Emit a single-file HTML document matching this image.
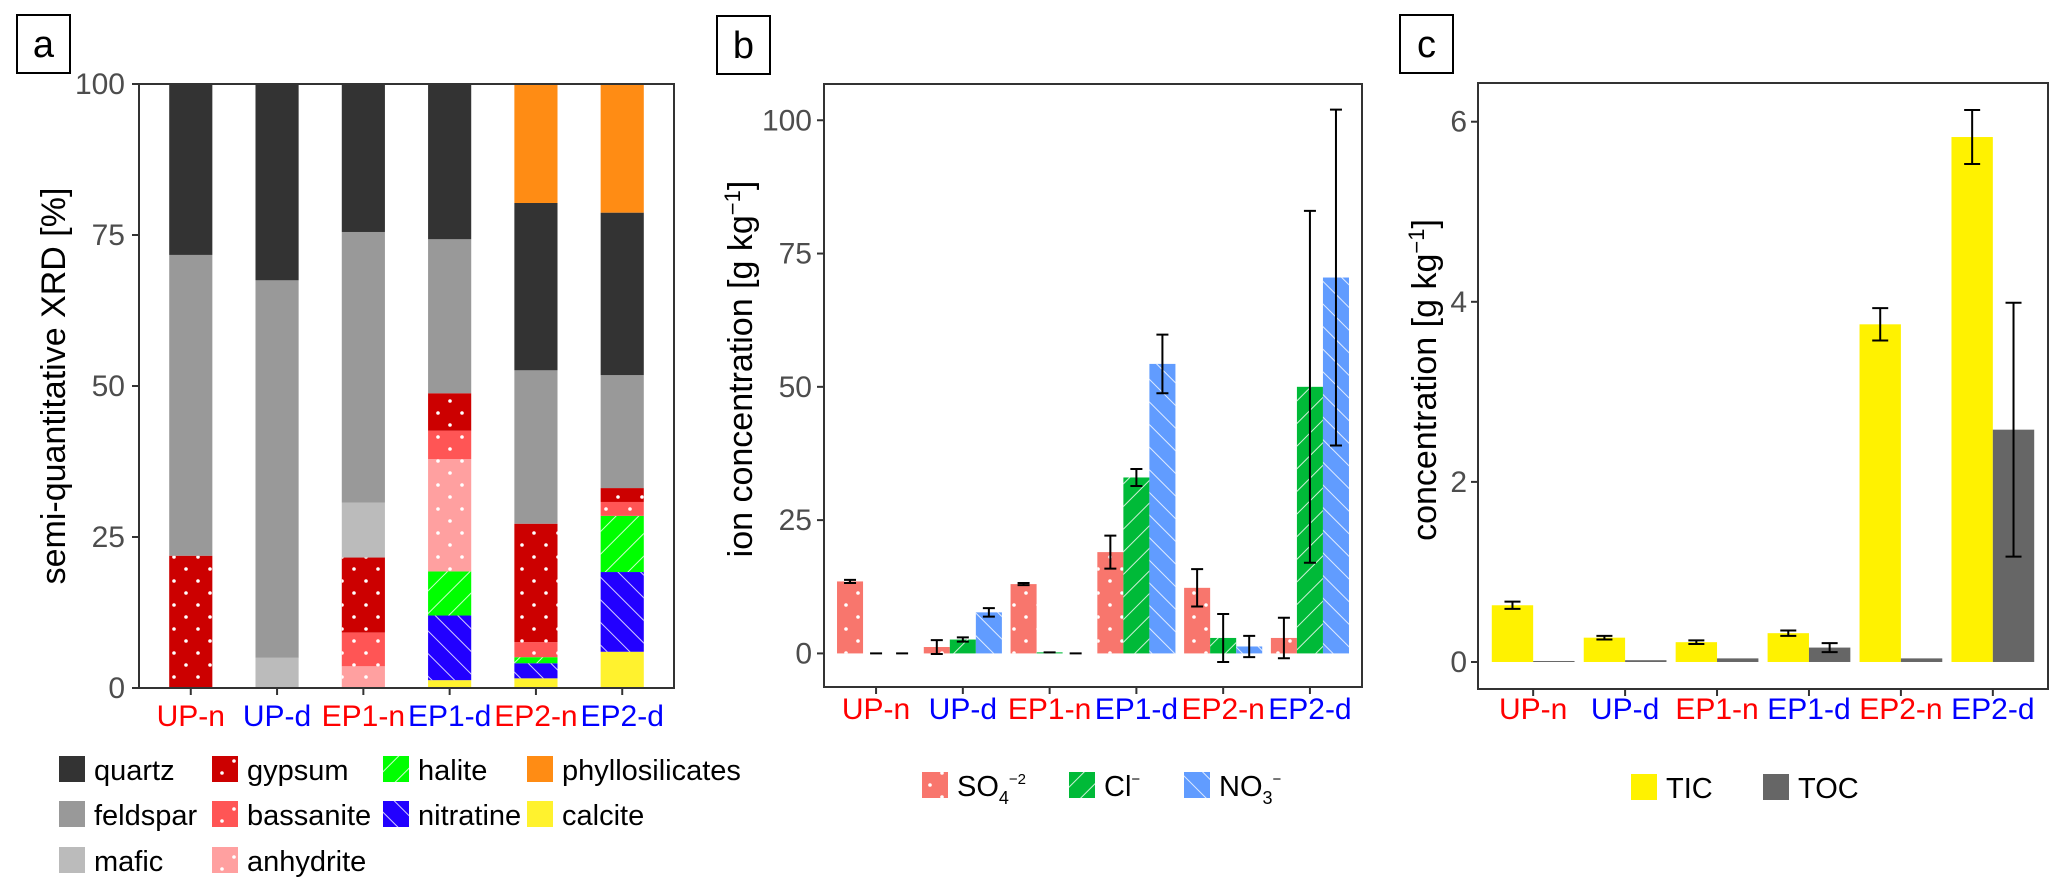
<!DOCTYPE html>
<html><head><meta charset="utf-8"><style>
html,body{margin:0;padding:0;background:#fff;}
svg{display:block;font-family:"Liberation Sans",sans-serif;}
</style></head><body>
<svg id="fig" width="2067" height="886" viewBox="0 0 2067 886" xmlns="http://www.w3.org/2000/svg">
<defs>
<pattern id="dots" width="24" height="24" patternUnits="userSpaceOnUse"><circle cx="6" cy="5" r="1.8" fill="#fff"/><circle cx="18" cy="17" r="1.8" fill="#fff"/></pattern>
<pattern id="fwd" width="16" height="16" patternUnits="userSpaceOnUse" patternTransform="rotate(45)"><line x1="0" y1="0" x2="0" y2="16" stroke="#fff" stroke-width="2" stroke-opacity="0.8"/></pattern>
<pattern id="bwd" width="16" height="16" patternUnits="userSpaceOnUse" patternTransform="rotate(-45)"><line x1="0" y1="0" x2="0" y2="16" stroke="#fff" stroke-width="2" stroke-opacity="0.8"/></pattern>
</defs>
<g id="pa"></g>
<g id="pb"></g>
<g id="pc"></g>
</svg>
<script>
const categories = ["UP-n","UP-d","EP1-n","EP1-d","EP2-n","EP2-d"];
const catColors = ["#ff0000","#0000ff","#ff0000","#0000ff","#ff0000","#0000ff"];
// Panel a: mineral percentages (stack order bottom->top)
const minerals = ["calcite","nitratine","halite","anhydrite","bassanite","gypsum","mafic","feldspar","quartz","phyllosilicates"];
const calcite   = [0,0,0,1.3,1.6,6.0];
const nitratine = [0,0,0,10.7,2.5,13.2];
const halite    = [0,0,0,7.3,1.0,9.3];
const anhydrite = [0,0,3.6,18.6,0,0];
const bassanite = [0,0,5.6,4.7,2.5,2.3];
const gypsum    = [21.9,0,12.4,6.2,19.6,2.3];
const mafic     = [0,5.0,9.1,0,0,0];
const feldspar  = [49.8,62.5,44.8,25.5,25.4,18.7];
const quartz    = [28.3,32.5,24.5,25.7,27.7,26.9];
const phyllosilicates = [0,0,0,0,19.7,21.3];
const aTicks = [0,25,50,75,100];
// Panel b: ions
const ions = ["SO4","Cl","NO3"];
const so4 = [13.5,1.2,13.0,19.0,12.3,2.9];
const so4Err = [0.3,1.3,0.2,3.1,3.5,3.8];
const cl = [0,2.6,0.2,33.0,2.9,50.0];
const clErr = [0,0.4,0,1.6,4.5,33.0];
const no3 = [0,7.7,0,54.3,1.3,70.5];
const no3Err = [0,0.8,0,5.5,2.0,31.5];
const bTicks = [0,25,50,75,100];
// Panel c
const tic = [0.63,0.27,0.22,0.32,3.75,5.83];
const ticErr = [0.04,0.02,0.02,0.03,0.18,0.30];
const toc = [0.0,0.02,0.04,0.16,0.04,2.58];
const tocErr = [0,0,0,0.05,0,1.41];
const cTicks = [0,2,4,6];

const NS="http://www.w3.org/2000/svg";
const TF=30;
function mk(parent,tag,attrs){const e=document.createElementNS(NS,tag);for(const k in attrs)e.setAttribute(k,attrs[k]);parent.appendChild(e);return e;}
function txt(parent,x,y,s,attrs){const t=mk(parent,"text",Object.assign({x:x,y:y},attrs));t.textContent=s;return t;}

function panelBox(g,x,y,label){
  const b=mk(g,"rect",{x:x,y:y,width:53,height:58,fill:"#fff",stroke:"#000","stroke-width":2});
  
  
  const t=txt(g,x+26.5,y+42,label,{"font-size":38,"text-anchor":"middle",fill:"#000"});
  
  
}
function frame(g,x0,x1,y0,y1){
  const r=mk(g,"rect",{x:x0,y:y0,width:x1-x0,height:y1-y0,fill:"none",stroke:"#333","stroke-width":2});
  
  
}
function yAxis(g,ticks,ys,x0,labelRight){
  ticks.forEach(v=>{const y=ys(v);
    const l=mk(g,"line",{x1:x0-7,x2:x0,y1:y,y2:y,stroke:"#333","stroke-width":2});
    
    
    const t=txt(g,labelRight,y+10,String(v),{"font-size":TF,"text-anchor":"end",fill:"#4d4d4d"});
    
    
  });
}
function xAxis(g,xs,yb,ly){
  categories.forEach((c,i)=>{const x=xs(i);
    const l=mk(g,"line",{x1:x,x2:x,y1:yb,y2:yb+7,stroke:"#333","stroke-width":2});
    
    
    const t=txt(g,x,ly,c,{"font-size":TF,"text-anchor":"middle",fill:catColors[i]});
    
    
  });
}
function bar(g,x,w,yTop,yBot,color,pat,name){
  const h=Math.max(0,yBot-yTop);
  const r=mk(g,"rect",{x:x,y:yTop,width:w,height:h,fill:color});
  
  
  if(pat){const p=mk(g,"rect",{x:x,y:yTop,width:w,height:h,fill:"url(#"+pat+")"});
    
    }
}
function errbar(g,x,yHi,yLo,w){
  const e=mk(g,"path",{d:`M${x-w} ${yHi}H${x+w}M${x} ${yHi}V${yLo}M${x-w} ${yLo}H${x+w}`,stroke:"#000","stroke-width":2,fill:"none"});
  
  
}
function yTitle(g,x,y,content){
  const t=mk(g,"text",{x:0,y:0,transform:`translate(${x},${y}) rotate(-90)`,"font-size":34,"text-anchor":"middle",fill:"#000"});
  t.innerHTML=content;
  
  
}
function legendKey(g,x,y,color,pat,label,name,isHtml){
  const r=mk(g,"rect",{x:x,y:y,width:26,height:26,fill:color});
  
  
  if(pat){const p=mk(g,"rect",{x:x,y:y,width:26,height:26,fill:"url(#"+pat+")"});
    
    }
  const t=mk(g,"text",{x:x+35,y:y+24,"font-size":29,fill:"#000"});
  if(isHtml)t.innerHTML=label;else t.textContent=label;
  
  
}

// ---------- Panel a ----------
(function(){
  const g=document.getElementById("pa");
  const X0=139,X1=674,Y0=84,Y1=688;
  const step=(X1-X0)/6.2;
  const xs=i=>X0+step*(0.6+i);
  const ys=v=>Y1-(v/100)*(Y1-Y0);
  panelBox(g,17,15,"a");
  const series={calcite,nitratine,halite,anhydrite,bassanite,gypsum,mafic,feldspar,quartz,phyllosilicates};
  const col={calcite:"#fff22e",nitratine:"#2200ff",halite:"#00ff00",anhydrite:"#ffa0a0",bassanite:"#ff5555",gypsum:"#cc0000",mafic:"#bbbbbb",feldspar:"#999999",quartz:"#333333",phyllosilicates:"#ff8c14"};
  const pat={halite:"fwd",nitratine:"bwd",anhydrite:"dots",bassanite:"dots",gypsum:"dots"};
  const bw=step*0.5;
  categories.forEach((c,i)=>{let cum=0;
    minerals.forEach(m=>{const v=series[m][i];if(v<=0)return;
      bar(g,xs(i)-bw/2,bw,ys(cum+v),ys(cum),col[m],pat[m]||null,"bar-"+m+"-"+c);cum+=v;});
  });
  frame(g,X0,X1,Y0,Y1);
  yAxis(g,aTicks,ys,X0,125);
  xAxis(g,xs,Y1,726);
  yTitle(g,65,386,"semi-quantitative XRD [%]");
  const lg=mk(g,"g",{});
  
  
  const cols=[59,212,383,527], rows=[756,801,847];
  const layout=[["quartz",0,0],["feldspar",0,1],["mafic",0,2],["gypsum",1,0],["bassanite",1,1],["anhydrite",1,2],["halite",2,0],["nitratine",2,1],["phyllosilicates",3,0],["calcite",3,1]];
  layout.forEach(([m,c,r])=>legendKey(lg,cols[c],rows[r],col[m],pat[m]||null,m,"legend-"+m,false));
})();

// ---------- Panel b ----------
(function(){
  const g=document.getElementById("pb");
  const X0=824,X1=1362,Y0=84,Y1=687;
  const vmin=-6.3,vmax=106.8;
  const step=(X1-X0)/6.2;
  const xs=i=>X0+step*(0.6+i);
  const ys=v=>Y1-(v-vmin)/(vmax-vmin)*(Y1-Y0);
  panelBox(g,717,16,"b");
  const bw=step*0.3;
  const data=[[so4,so4Err,"#f8766d","dots","so4"],[cl,clErr,"#00ba38","fwd","cl"],[no3,no3Err,"#619cff","bwd","no3"]];
  categories.forEach((c,i)=>{
    data.forEach(([vals,errs,color,p,n],k)=>{
      const x=xs(i)+(k-1)*bw;
      bar(g,x-bw/2,bw,ys(vals[i]),ys(0),color,p,"bar-"+n+"-"+c);
    });
    data.forEach(([vals,errs,color,p,n],k)=>{
      const x=xs(i)+(k-1)*bw;
      errbar(g,x,ys(vals[i]+errs[i]),ys(vals[i]-errs[i]),6);
    });
  });
  frame(g,X0,X1,Y0,Y1);
  yAxis(g,bTicks,ys,X0,812);
  xAxis(g,xs,Y1,719);
  yTitle(g,752,369,'ion concentration [g kg<tspan dy="-12" font-size="22">−1</tspan><tspan dy="12">]</tspan>');
  const lg=mk(g,"g",{});
  
  
  legendKey(lg,922,772,"#f8766d","dots",'SO<tspan dy="8" font-size="18">4</tspan><tspan dy="-20" font-size="15">−2</tspan>',"legend-so4",true);
  legendKey(lg,1069,772,"#00ba38","fwd",'Cl<tspan dy="-12" font-size="15">−</tspan>',"legend-cl",true);
  legendKey(lg,1184,772,"#619cff","bwd",'NO<tspan dy="8" font-size="18">3</tspan><tspan dy="-20" font-size="15">−</tspan>',"legend-no3",true);
})();

// ---------- Panel c ----------
(function(){
  const g=document.getElementById("pc");
  const X0=1478,X1=2048,Y0=83,Y1=689;
  const vmin=-0.3,vmax=6.43;
  const step=(X1-X0)/6.2;
  const xs=i=>X0+step*(0.6+i);
  const ys=v=>Y1-(v-vmin)/(vmax-vmin)*(Y1-Y0);
  panelBox(g,1400,15,"c");
  const bw=step*0.45;
  categories.forEach((c,i)=>{
    bar(g,xs(i)-bw,bw,ys(tic[i]),ys(0),"#fff200",null,"bar-tic-"+c);
    bar(g,xs(i),bw,Math.min(ys(toc[i]),ys(0)-1),ys(0),"#666666",null,"bar-toc-"+c);
    errbar(g,xs(i)-bw/2,ys(tic[i]+ticErr[i]),ys(tic[i]-ticErr[i]),8);
    if(tocErr[i]>0)errbar(g,xs(i)+bw/2,ys(toc[i]+tocErr[i]),ys(toc[i]-tocErr[i]),8);
  });
  frame(g,X0,X1,Y0,Y1);
  yAxis(g,cTicks,ys,X0,1467);
  xAxis(g,xs,Y1,719);
  yTitle(g,1436,380,'concentration [g kg<tspan dy="-12" font-size="22">−1</tspan><tspan dy="12">]</tspan>');
  const lg=mk(g,"g",{});
  
  
  legendKey(lg,1631,774,"#fff200",null,"TIC","legend-tic",false);
  legendKey(lg,1763,774,"#666666",null,"TOC","legend-toc",false);
})();
</script>
</body></html>
